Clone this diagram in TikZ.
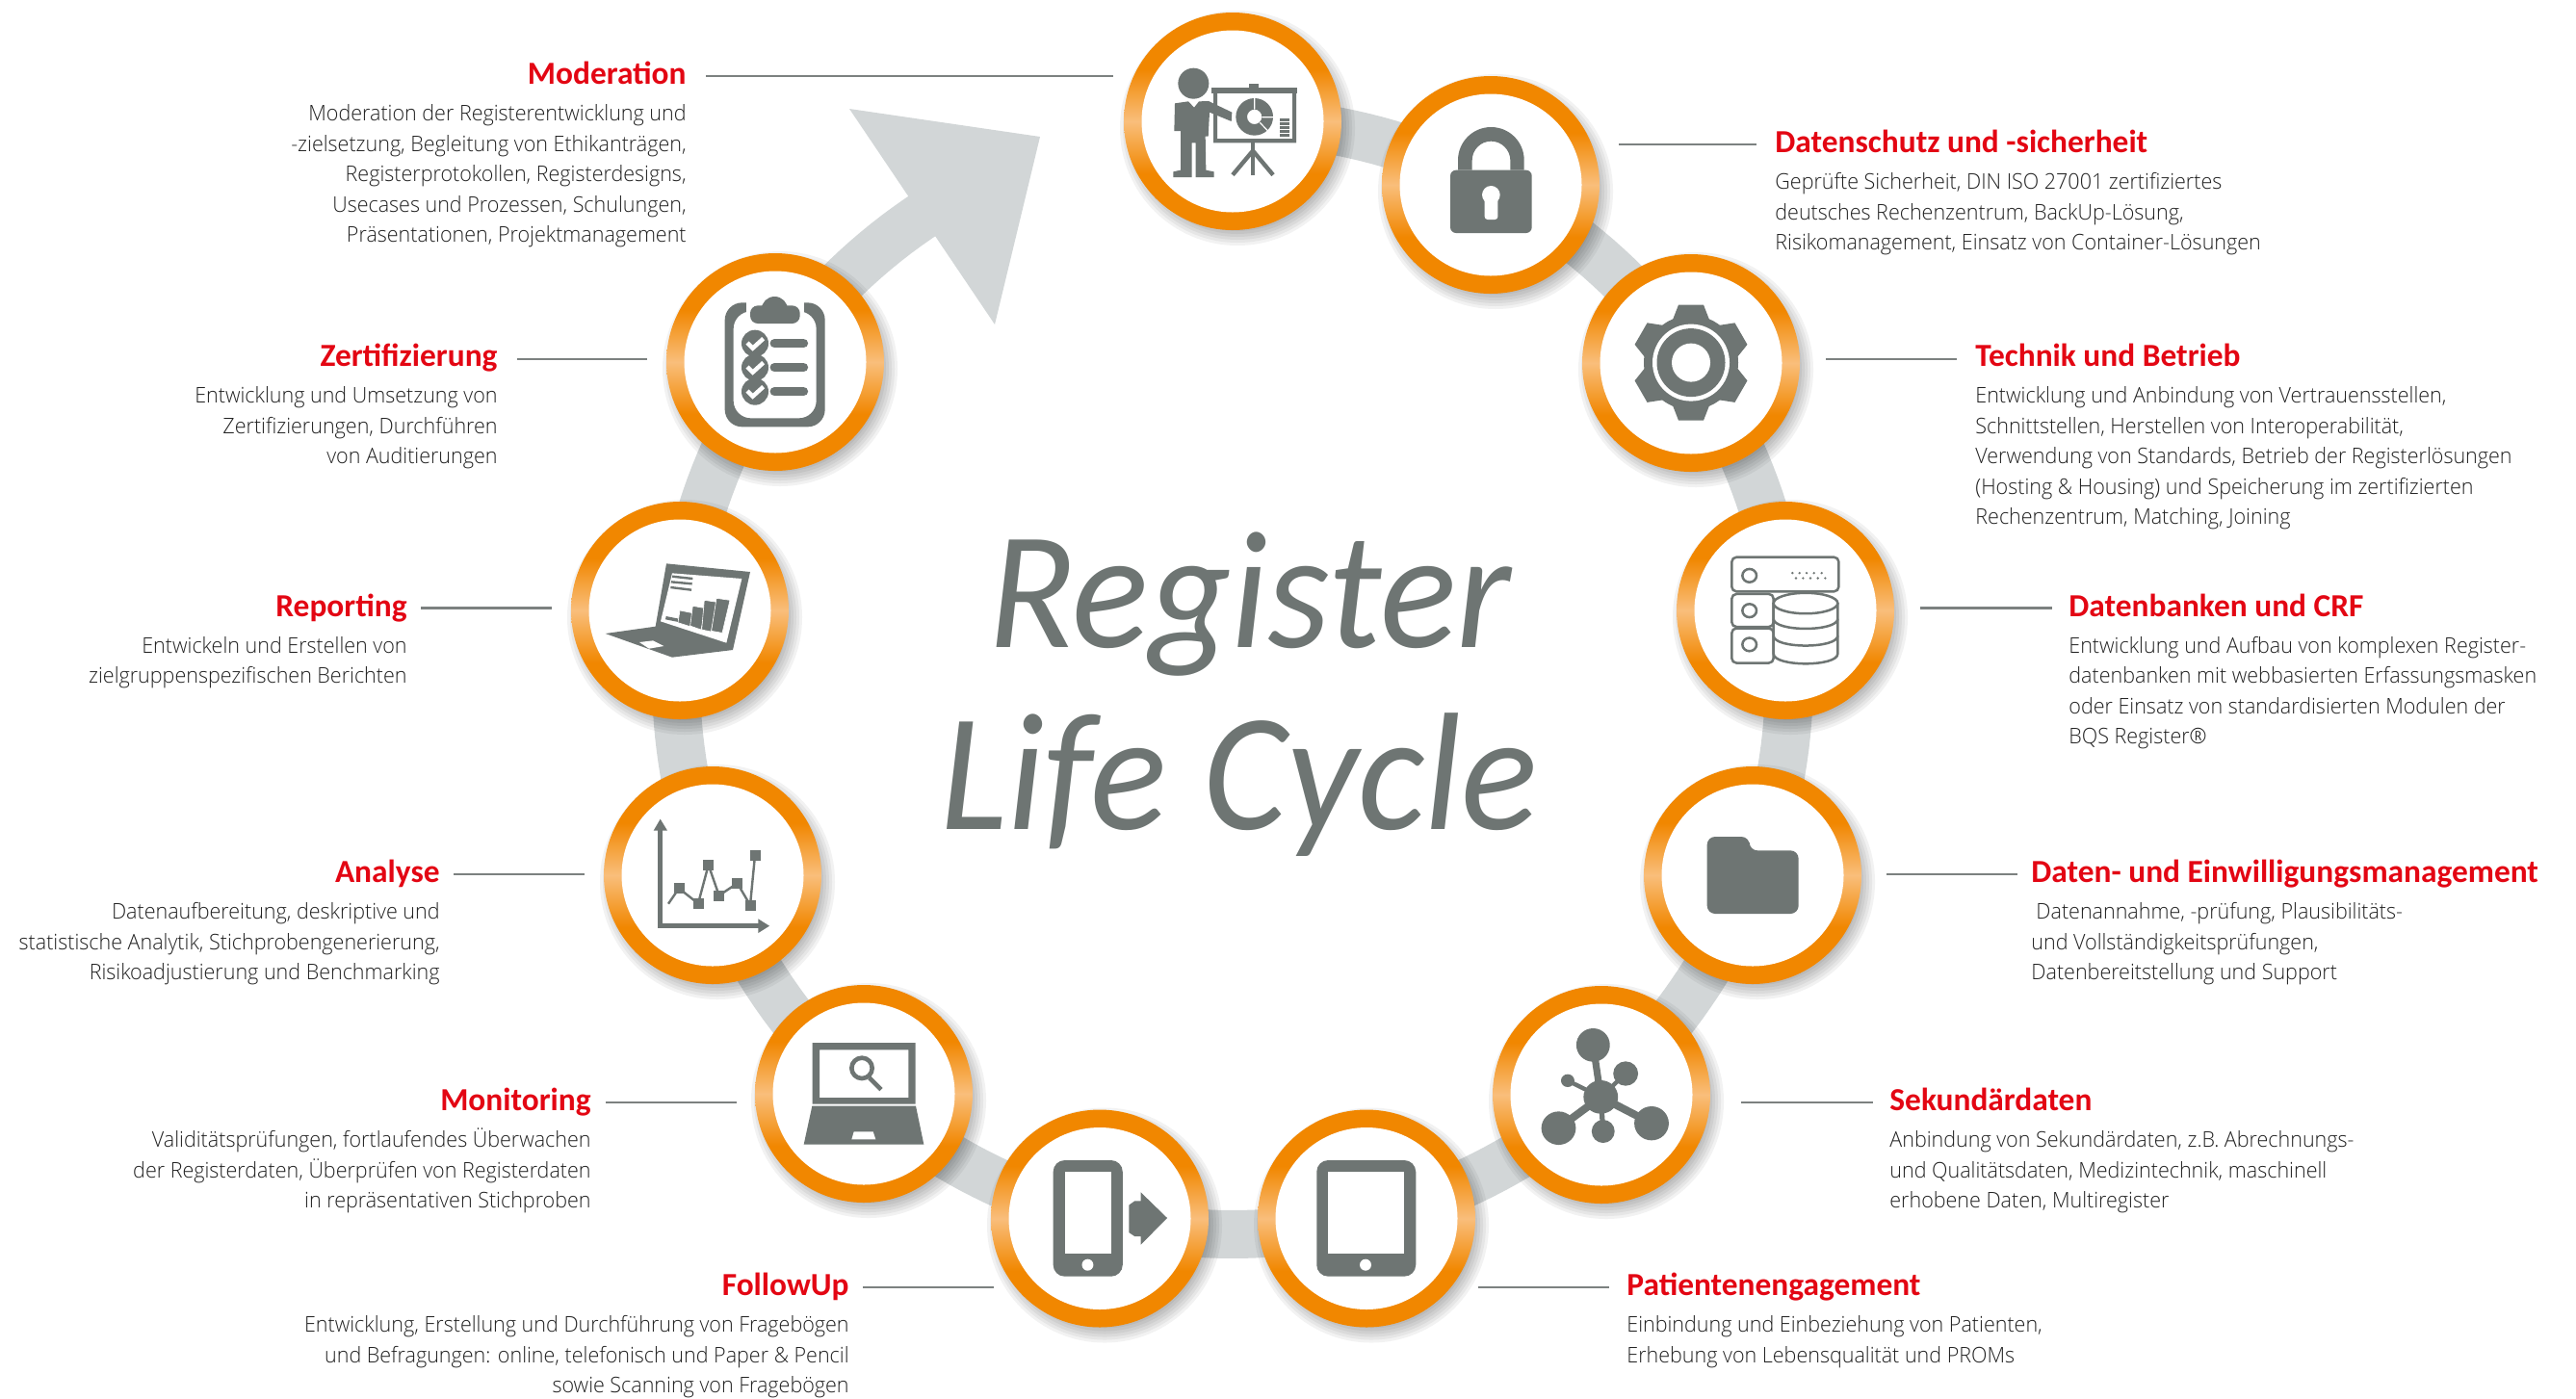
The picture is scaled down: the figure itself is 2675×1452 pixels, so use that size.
\documentclass[tikz,border=0pt]{standalone}
\usepackage{fontspec}
\setmainfont{Open Sans}
\newfontfamily\bodyf[FakeStretch=0.96]{Open Sans Light}
\newfontfamily\ttlf{Carlito}[BoldFont=Carlito Bold]
\newfontfamily\bigf[FakeStretch=0.955]{Carlito}
\definecolor{ico}{HTML}{6E7573}
\definecolor{band}{HTML}{D2D6D7}
\definecolor{redt}{HTML}{E30613}
\definecolor{orng}{HTML}{F18700}
\definecolor{orlt}{HTML}{F9BE7B}
\definecolor{bodyc}{HTML}{222222}
\definecolor{lead}{HTML}{7C8180}
\pgfdeclareverticalshading{ringshade}{100bp}{color(0bp)=(orng); color(38bp)=(orng); color(50bp)=(orlt); color(62bp)=(orng); color(100bp)=(orng)}
\tikzset{
  halo/.style={circle,minimum size=113pt,inner sep=0pt,shade,shading=ringshade},
  disc/.style={circle,fill=white,minimum size=94.5pt,inner sep=0pt},
  ttl/.style={inner sep=0pt,text=redt,font=\ttlf\bfseries\fontsize{16.7pt}{18pt}\selectfont},
  txt/.style={inner sep=0pt,text=bodyc,font=\bodyf\fontsize{11.2pt}{15.75pt}\selectfont},
  bigt/.style={inner sep=0pt,text=ico,font=\bigf\itshape\fontsize{87pt}{90pt}\selectfont},
  leader/.style={draw=lead,line width=1.2pt},
  zoomA/.style={x=0.166667pt,y=-0.166667pt},
  zoomB/.style={x=0.166667pt,y=-0.191350pt},
  zoomC/.style={x=0.248756pt,y=-0.166667pt},
  ic/.style={fill=ico,draw=none}
}
\newcommand{\Stop}[4]{% id,x,y
  \foreach \rr in {98,101,...,122}{\fill[black,opacity=0.05] ({#2+5},{#3+7}) circle[radius=\rr];}
  \node[halo] (c#1) at (#2,#3) {};
  \node[disc] (d#1) at (#2,#3) {};
}
\newcommand{\Lbl}[7]{% id,x,liney,side,align,title,body
  \node[ttl,anchor=base #4] (t#1) at (#2,{#3+8.6}) {#6};
  \node[txt,anchor=north #4,align=#5] (b#1) at (#2,{#3+26.5}) {\rule{0pt}{10pt}#7};
}
\newcommand{\Lead}[4]{% id,x1,x2,y
  \coordinate (la#1) at (#2,#4); \coordinate (lb#1) at (#3,#4);
  \draw[leader] (la#1) -- (lb#1);
}
\begin{document}
\begin{tikzpicture}[x=0.5pt,y=-0.5pt]
\useasboundingbox (0,0) rectangle (2675,1452);
% ring and arrow
\draw[band,line width=25pt] plot[domain=-90:237,samples=240] ({1280+578*cos(\x)},{704+578*sin(\x)});
\coordinate (ah1) at (882,113); \coordinate (ah2) at (1080,142); \coordinate (ah3) at (1033,337);
\fill[band] (ah1) -- (ah2) -- (ah3) -- cycle;
% stops
\Stop{1}{1280}{126}{}
\Stop{2}{1548}{192}{}
\Stop{3}{1756}{377}{}
\Stop{4}{1854}{634}{}
\Stop{5}{1820}{909}{}
\Stop{6}{1663}{1137}{}
\Stop{7}{1419}{1265.5}{}
\Stop{8}{1142}{1265.5}{}
\Stop{9}{897}{1136}{}
\Stop{10}{740}{909}{}
\Stop{11}{706}{634}{}
\Stop{12}{805}{376}{}
% icon 1: presenter
\begin{scope}[shift={(1130,0)},zoomA]
\fill[ic] (328,260) circle[radius=48];
\fill[ic] (383,272) rectangle (652,290);
\fill[ic] (500,260) rectangle (530,272);
\fill[ic,even odd rule] (390,290) rectangle (648,445) (402,290) rectangle (636,432);
\fill[ic] (507,445) rectangle (519,545);
\draw[ico,line width=2.2pt] (513,470) -- (450,545) (513,470) -- (576,545);
\fill[ic] (270,322) -- (312,316) -- (330,335) -- (345,316) -- (375,315) -- (448,350) -- (446,378) -- (378,350) -- (374,425) -- (365,425) -- (367,530) -- (392,535) -- (392,552) -- (335,552) -- (335,445) -- (323,445) -- (323,552) -- (265,552) -- (265,535) -- (288,530) -- (288,408) -- (268,408) -- cycle;
\fill[ic,even odd rule] (518,364) circle[radius=58] (518,364) circle[radius=23];
\draw[white,line width=0.6pt] (518,305) -- (518,341) (541,365) -- (580,365) (535,382) -- (560,408);
\fill[ic] (597,368) rectangle (628,426);
\draw[white,line width=0.5pt] (597,380) -- (628,380) (597,392) -- (628,392) (597,404) -- (628,404) (597,415) -- (628,415);
% icon 2: lock
\fill[ic,rounded corners=3pt] (1128,530) rectangle (1382,726);
\fill[ic] (1152,530) -- (1152,499) .. controls (1152,442) and (1198,396) .. (1255,396) .. controls (1312,396) and (1358,442) .. (1358,499) -- (1358,530) -- (1315,530) -- (1315,500) .. controls (1315,467) and (1288,440) .. (1255,440) .. controls (1222,440) and (1196,467) .. (1196,500) -- (1196,530) -- cycle;
\fill[white] (1255,607) circle[radius=28];
\fill[white,rounded corners=1.5pt] (1235,615) rectangle (1276,684);
\end{scope}
% icon 3: gear
\begin{scope}[shift={(1756,376.6)}]
\fill[ic] (0,0) circle[radius=49];
\foreach \a in {0,60,...,300}{
  \begin{scope}[rotate=\a]
    \fill[ic] (-20,-42) -- (-13,-60) -- (13,-60) -- (20,-42) -- cycle;
  \end{scope}}
\fill[white] (0,0) circle[radius=40];
\fill[ic] (0,0) circle[radius=35.5];
\fill[white] (0,0) circle[radius=20];
\end{scope}
% icon 4: database
\begin{scope}[shift={(1620,240)},zoomB]
\begin{scope}[draw=ico,line width=1.25pt,rounded corners=2.4pt]
\draw (535,885) rectangle (868,978);
\draw (535,985) rectangle (665,1074);
\draw (535,1078) rectangle (665,1172);
\end{scope}
\draw[ico,line width=1.25pt] (590,935) circle[x radius=22,y radius=18];
\draw[ico,line width=1.25pt] (590,1030) circle[x radius=22,y radius=18];
\draw[ico,line width=1.25pt] (590,1122) circle[x radius=22,y radius=18];
\foreach \q in {724,746,768,791,815}{\fill[ic] (\q,928) circle[x radius=4,y radius=3.5];}
\foreach \q in {735,757,780,803,826}{\fill[ic] (\q,942) circle[x radius=4,y radius=3.5];}
\filldraw[fill=white,draw=ico,line width=1.25pt] (665,1012) -- (665,1147) .. controls (665,1183) and (865,1183) .. (865,1147) -- (865,1012) -- cycle;
\filldraw[fill=white,draw=ico,line width=1.25pt] (765,1010) circle[x radius=100,y radius=28];
\draw[ico,line width=1.25pt] (665,1052) .. controls (665,1088) and (865,1088) .. (865,1052);
\draw[ico,line width=1.25pt] (665,1098) .. controls (665,1134) and (865,1134) .. (865,1098);
\end{scope}
% icon 5: folder
\begin{scope}[shift={(1700,800)},zoomA]
\fill[ic,rounded corners=4.2pt] (218,447) -- (218,207) -- (350,207) -- (350,250) -- (503,250) -- (503,447) -- cycle;
\end{scope}
% icons 6,7,8: network, tablet, phone
\begin{scope}[shift={(1020,1020)},zoomC]
\draw[ico,line width=3.6pt] (1291,358) -- (1275,196);
\draw[ico,line width=2.2pt] (1291,358) -- (1343,285);
\draw[ico,line width=2.2pt] (1291,358) -- (1222,307);
\draw[ico,line width=4pt] (1291,358) -- (1203,455);
\draw[ico,line width=4pt] (1291,358) -- (1397,440);
\draw[ico,line width=2.6pt] (1291,358) -- (1296,465);
\fill[ic] (1291,358) circle[x radius=36,y radius=52];
\fill[ic] (1275,196) circle[x radius=35,y radius=52];
\fill[ic] (1343,285) circle[x radius=26,y radius=38];
\fill[ic] (1222,307) circle[x radius=14,y radius=20];
\fill[ic] (1203,455) circle[x radius=36,y radius=52];
\fill[ic] (1397,440) circle[x radius=36,y radius=53];
\fill[ic] (1296,465) circle[x radius=24,y radius=36];
% tablet
\fill[ic,rounded corners=6pt] (698,555) rectangle (905,917);
\fill[white] (722,591) rectangle (880,845);
\fill[white] (800,881) circle[x radius=12,y radius=18];
% phone
\fill[ic,rounded corners=6pt] (148,555) rectangle (293,917);
\fill[white] (172,591) rectangle (270,845);
\fill[white] (220,881) circle[x radius=12,y radius=18];
\fill[ic] (306,695) -- (318,682) -- (331,682) -- (331,655) -- (386,735) -- (331,818) -- (331,792) -- (318,792) -- (306,780) -- cycle;
\end{scope}
% icons 9,10: monitor, chart
\begin{scope}[shift={(600,780)},zoomA]
\fill[ic,even odd rule] (731,909) rectangle (1052,1100) (753,931) rectangle (1030,1080);
\fill[ic] (730,1106) -- (1053,1106) -- (1078,1226) -- (704,1226) -- cycle;
\fill[white] (860,1186) -- (920,1186) -- (928,1210) -- (853,1210) -- cycle;
\draw[ico,line width=2.3pt] (885,988) circle[radius=32];
\draw[ico,line width=2.3pt] (908,1018) -- (945,1055);
\draw[ico,line width=2.2pt] (257,240) -- (257,545) -- (570,545);
\fill[ic] (257,212) -- (279,248) -- (236,248) -- cycle;
\fill[ic] (597,545) -- (562,523) -- (562,567) -- cycle;
\draw[ico,line width=1.2pt] (282,476) -- (315,428) -- (375,475) -- (407,355) -- (440,450) -- (497,412) -- (537,480) -- (552,325);
\foreach \p/\q in {315/428,375/475,407/355,440/450,497/412,537/480,552/325}{\fill[ic] (\p-16.5,\q-16.5) rectangle (\p+16.5,\q+16.5);}
\end{scope}
% icon 11: laptop
\begin{scope}[shift={(590,520)},zoomA]
\fill[ic] (306,196) -- (567,222) -- (513,465) -- (324,488) -- (116,414) -- (272,392) -- cycle;
\fill[white] (324,226) -- (541,243) -- (493,443) -- (288,376) -- cycle;
\fill[white] (222,441) -- (264,436) -- (298,453) -- (252,461) -- cycle;
\fill[ic] (305,360) -- (345,368) -- (343,378) -- (303,370) -- cycle;
\filldraw[fill=ico,draw=white,line width=0.3pt] (348,342) -- (388,350) -- (380,392) -- (342,380) -- cycle;
\filldraw[fill=ico,draw=white,line width=0.3pt] (388,328) -- (428,335) -- (414,402) -- (380,390) -- cycle;
\filldraw[fill=ico,draw=white,line width=0.3pt] (424,310) -- (464,316) -- (445,408) -- (416,402) -- cycle;
\filldraw[fill=ico,draw=white,line width=0.3pt] (462,304) -- (504,310) -- (480,412) -- (446,406) -- cycle;
\draw[ico,line width=1.2pt] (324,236) -- (388,243) (321,253) -- (386,259) (319,270) -- (384,278);
\end{scope}
% icon 12: clipboard
\begin{scope}[shift={(660,80)},zoomA]
\fill[ic,even odd rule,rounded corners=9pt] (278,703) rectangle (590,1090) (305,730) rectangle (563,1063);
\fill[white] (345,695) rectangle (525,780);
\fill[ic,rounded corners=4pt] (357,712) rectangle (512,768);
\fill[ic] (433,725) circle[radius=41];
\foreach \q in {830,905,980}{
  \fill[ic] (372,\q) circle[radius=42];
  \draw[white,line width=2.2pt] (348,\q-2) -- (365,\q+15) -- (398,\q-15);
  \draw[ico,line width=4.8pt,line cap=round] (433,\q) -- (523,\q);
}
\end{scope}
% centre text
\node[bigt,anchor=base west] (reg) at (1026,672) {Register};
\node[bigt,anchor=base west] (lc) at (976,861) {Life Cycle};
% leaders
\Lead{1}{733}{1156}{79}
\Lead{2}{1681}{1824}{150}
\Lead{3}{1896}{2032}{373}
\Lead{4}{1994}{2131}{631.5}
\Lead{5}{1959}{2095}{908}
\Lead{6}{1808}{1945}{1145}
\Lead{7}{1535}{1671}{1337}
\Lead{8}{896}{1032}{1337}
\Lead{9}{629}{765}{1145}
\Lead{10}{471}{607}{908}
\Lead{11}{437}{573}{631.5}
\Lead{12}{537}{672}{373}
% labels
\Lbl{1}{713}{79}{east}{right}{Moderation}{Moderation der Registerentwicklung und\\-zielsetzung, Begleitung von Ethikanträgen,\\Registerprotokollen, Registerdesigns,\\Usecases und Prozessen, Schulungen,\\Präsentationen, Projektmanagement}
\Lbl{2}{1843}{150}{west}{left}{Datenschutz und -sicherheit}{Geprüfte Sicherheit, DIN ISO 27001 zertifiziertes\\deutsches Rechenzentrum, BackUp-Lösung,\\Risikomanagement, Einsatz von Container-Lösungen}
\Lbl{3}{2051}{372}{west}{left}{Technik und Betrieb}{Entwicklung und Anbindung von Vertrauensstellen,\\Schnittstellen, Herstellen von Interoperabilität,\\Verwendung von Standards, Betrieb der Registerlösungen\\(Hosting \& Housing) und Speicherung im zertifizierten\\Rechenzentrum, Matching, Joining}
\Lbl{4}{2148}{631.5}{west}{left}{Datenbanken und CRF}{Entwicklung und Aufbau von komplexen Register-\\datenbanken mit webbasierten Erfassungsmasken\\oder Einsatz von standardisierten Modulen der\\BQS Register®}
\Lbl{5}{2109}{908}{west}{left}{Daten- und Einwilligungsmanagement}{\hspace{2.5pt}Datenannahme, -prüfung, Plausibilitäts-\\und Vollständigkeitsprüfungen,\\Datenbereitstellung und Support}
\Lbl{6}{1962}{1145}{west}{left}{Sekundärdaten}{Anbindung von Sekundärdaten, z.B. Abrechnungs-\\und Qualitätsdaten, Medizintechnik, maschinell\\erhobene Daten, Multiregister}
\Lbl{7}{1689}{1337}{west}{left}{Patientenengagement}{Einbindung und Einbeziehung von Patienten,\\Erhebung von Lebensqualität und PROMs}
\Lbl{8}{882}{1337}{east}{right}{FollowUp}{Entwicklung, Erstellung und Durchführung von Fragebögen\\und Befragungen: online, telefonisch und Paper \& Pencil\\sowie Scanning von Fragebögen}
\Lbl{9}{614}{1145}{east}{right}{Monitoring}{Validitätsprüfungen, fortlaufendes Überwachen\\der Registerdaten, Überprüfen von Registerdaten\\in repräsentativen Stichproben}
\Lbl{10}{457}{908}{east}{right}{Analyse}{Datenaufbereitung, deskriptive und\\statistische Analytik, Stichprobengenerierung,\\Risikoadjustierung und Benchmarking}
\Lbl{11}{423}{631.5}{east}{right}{Reporting}{Entwickeln und Erstellen von\\zielgruppenspezifischen Berichten}
\Lbl{12}{517}{372}{east}{right}{Zertifizierung}{Entwicklung und Umsetzung von\\Zertifizierungen, Durchführen\\von Auditierungen}
\end{tikzpicture}
\end{document}
